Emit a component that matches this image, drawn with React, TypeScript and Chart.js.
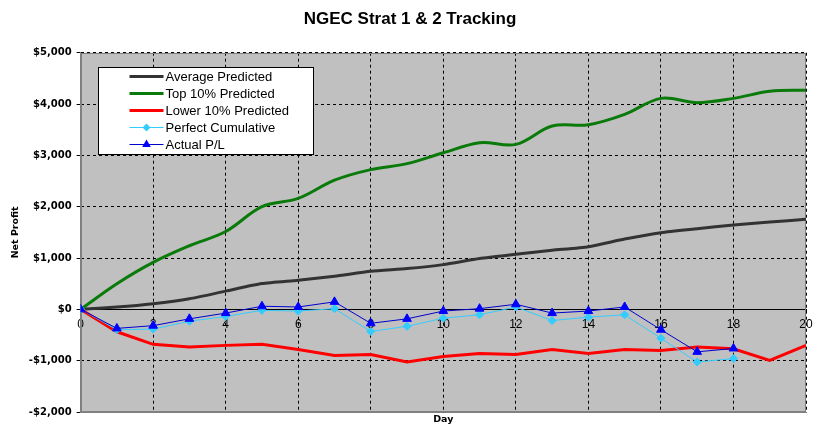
import React, { useEffect, useRef } from "react";
import { Chart, registerables } from "chart.js";

Chart.register(...registerables);

const chartTitle = "NGEC Strat 1 & 2 Tracking";
const yTitle = "Net Profit";
const xTitle = "Day";

const days = [0, 1, 2, 3, 4, 5, 6, 7, 8, 9, 10, 11, 12, 13, 14, 15, 16, 17, 18, 19, 20];
const averagePredicted = [0, 45, 110, 206, 355, 503, 568, 645, 742, 794, 871, 990, 1072, 1150, 1221, 1370, 1494, 1570, 1643, 1700, 1755];
const top10Predicted = [0, 500, 916, 1239, 1516, 2000, 2161, 2516, 2722, 2839, 3050, 3247, 3214, 3571, 3597, 3799, 4110, 4026, 4110, 4247, 4270];
const lower10Predicted = [0, -437, -682, -735, -702, -682, -781, -900, -880, -1026, -920, -861, -880, -781, -861, -781, -801, -735, -768, -993, -702];
const perfectCumulative = [0, -397, -384, -232, -139, -20, -33, 13, -430, -331, -172, -106, 46, -219, -152, -106, -563, -1026, -960];
const actualPL = [0, -371, -318, -185, -73, 60, 46, 146, -272, -185, -33, 13, 99, -73, -33, 46, -397, -828, -762];

const seriesNames = ["Average Predicted", "Top 10% Predicted", "Lower 10% Predicted", "Perfect Cumulative", "Actual P/L"];
const seriesColors = ["#333333", "#0A7A0A", "#FF0000", "#33CCFF", "#0000CC"];
const markerColors = ["", "", "", "#33CCFF", "#0000FF"];

const yMin = -2000;
const yMax = 5000;
const yStep = 1000;
const xMin = 0;
const xMax = 20;
const xStep = 2;

function toPoints(values: number[]) {
  return values.map((v, i) => ({ x: days[i], y: v }));
}

function fmtMoney(v: number) {
  const abs = Math.abs(v).toLocaleString("en-US");
  return (v < 0 ? "-$" : "$") + abs;
}

function drawMarker(ctx: CanvasRenderingContext2D, kind: string, x: number, y: number, r: number, color: string) {
  ctx.save();
  ctx.fillStyle = color;
  ctx.beginPath();
  if (kind === "diamond") {
    ctx.moveTo(x, y - r);
    ctx.lineTo(x + r, y);
    ctx.lineTo(x, y + r);
    ctx.lineTo(x - r, y);
  } else {
    const h = r * 1.5;
    const w = r * 0.866 * 2;
    ctx.moveTo(x, y - r);
    ctx.lineTo(x + w / 2, y - r + h);
    ctx.lineTo(x - w / 2, y - r + h);
  }
  ctx.closePath();
  ctx.fill();
  ctx.restore();
}

const plotFrame = {
  id: "plotFrame",
  beforeDraw(chart: any) {
    const { ctx, chartArea: a } = chart;
    ctx.save();
    ctx.fillStyle = "#C0C0C0";
    ctx.fillRect(a.left, a.top, a.right - a.left, a.bottom - a.top);
    ctx.restore();
  },
  beforeDatasetsDraw(chart: any) {
    const { ctx, chartArea: a } = chart;
    ctx.save();
    ctx.strokeStyle = "#808080";
    ctx.lineWidth = 1;
    ctx.strokeRect(Math.round(a.left) + 0.5, Math.round(a.top) + 0.5, Math.round(a.right - a.left) - 1, Math.round(a.bottom - a.top) - 1);
    ctx.restore();
  },
};

const boxLegend = {
  id: "boxLegend",
  afterDraw(chart: any) {
    const { ctx, chartArea: a } = chart;
    const left = Math.round(a.left + 17) + 0.5;
    const top = Math.round(a.top + 14) + 0.5;
    const w = 215;
    const h = 87;
    ctx.save();
    ctx.fillStyle = "#FFFFFF";
    ctx.fillRect(left, top, w, h);
    ctx.strokeStyle = "#000000";
    ctx.lineWidth = 1;
    ctx.strokeRect(left, top, w, h);
    ctx.font = "13px 'Liberation Sans', Arial, sans-serif";
    ctx.textBaseline = "middle";
    ctx.textAlign = "left";
    seriesNames.forEach((name, i) => {
      const y = top + 9 + i * 17;
      const x0 = left + 31;
      const x1 = left + 65;
      ctx.beginPath();
      ctx.strokeStyle = seriesColors[i];
      ctx.lineWidth = i < 3 ? 3 : 1;
      ctx.moveTo(x0, y);
      ctx.lineTo(x1, y);
      ctx.stroke();
      if (i === 3) drawMarker(ctx, "diamond", (x0 + x1) / 2, y, 4, markerColors[i]);
      if (i === 4) drawMarker(ctx, "triangle", (x0 + x1) / 2, y, 5, markerColors[i]);
      ctx.fillStyle = "#000000";
      ctx.fillText(name, x1 + 2, y + 0.5);
    });
    ctx.restore();
  },
};

export default function App() {
  const canvasRef = useRef<HTMLCanvasElement | null>(null);

  useEffect(() => {
    document.body.style.margin = "0";
    const canvas = canvasRef.current;
    if (!canvas) return;
    const chart = new Chart(canvas, {
      type: "line",
      data: {
        datasets: [
          {
            label: seriesNames[4],
            data: toPoints(actualPL),
            borderColor: seriesColors[4],
            backgroundColor: markerColors[4],
            borderWidth: 1,
            pointStyle: "triangle",
            pointRadius: 5,
            pointBorderWidth: 1,
            pointBorderColor: markerColors[4],
            tension: 0,
            order: 0,
          },
          {
            label: seriesNames[3],
            data: toPoints(perfectCumulative),
            borderColor: seriesColors[3],
            backgroundColor: markerColors[3],
            borderWidth: 1,
            pointStyle: "rectRot",
            pointRadius: 4,
            pointBorderWidth: 1,
            pointBorderColor: markerColors[3],
            tension: 0,
            order: 1,
          },
          {
            label: seriesNames[2],
            data: toPoints(lower10Predicted),
            borderColor: seriesColors[2],
            borderWidth: 3,
            pointRadius: 0,
            tension: 0,
            order: 2,
          },
          {
            label: seriesNames[1],
            data: toPoints(top10Predicted),
            borderColor: seriesColors[1],
            borderWidth: 3,
            pointRadius: 0,
            tension: 0.35,
            order: 3,
          },
          {
            label: seriesNames[0],
            data: toPoints(averagePredicted),
            borderColor: seriesColors[0],
            borderWidth: 3,
            pointRadius: 0,
            tension: 0.2,
            order: 4,
          },
        ],
      },
      options: {
        animation: false,
        responsive: true,
        maintainAspectRatio: false,
        events: [],
        layout: { padding: { left: 0, right: 3, top: 0, bottom: 0 } },
        plugins: {
          legend: { display: false },
          tooltip: { enabled: false },
          title: {
            display: true,
            text: chartTitle,
            color: "#000000",
            font: { family: "'Liberation Sans', Arial, sans-serif", size: 17, weight: "bold" },
            padding: { top: 8.8, bottom: 23.5 },
          },
        },
        scales: {
          x: {
            type: "linear",
            min: xMin,
            max: xMax,
            position: "bottom",
            ticks: { display: false, stepSize: xStep },
            grid: { color: "#000000", drawTicks: false, lineWidth: 1 },
            border: { display: true, color: "#808080", dash: [3, 3] },
            title: {
              display: true,
              text: xTitle,
              color: "#000000",
              font: { family: "'DejaVu Sans', sans-serif", size: 9.5, weight: "bold" },
              padding: { top: 0, bottom: 2.3 },
            },
            afterFit: (scale: any) => {
              scale.height = 16;
            },
          },
          x2: {
            type: "linear",
            axis: "x",
            min: xMin,
            max: xMax,
            position: { y: 0 },
            ticks: {
              stepSize: xStep,
              color: "#000000",
              padding: 5,
              font: { family: "'Liberation Sans', Arial, sans-serif", size: 12 },
            },
            grid: { drawOnChartArea: false, drawTicks: true, tickLength: 3, color: "#000000" },
            border: { display: true, color: "#000000", width: 1 },
          },
          y: {
            type: "linear",
            min: yMin,
            max: yMax,
            position: "left",
            ticks: {
              stepSize: yStep,
              color: "#000000",
              padding: 5,
              font: { family: "'DejaVu Sans', sans-serif", size: 10, weight: "bold" },
              callback: (v: any) => fmtMoney(Number(v)),
            },
            grid: { color: "#000000", drawTicks: true, tickLength: 4, lineWidth: 1 },
            border: { display: true, color: "#808080", dash: [3, 3] },
            title: {
              display: true,
              text: yTitle,
              color: "#000000",
              font: { family: "'DejaVu Sans', sans-serif", size: 9.5, weight: "bold" },
              padding: { top: 10.3, bottom: 0 },
            },
            afterFit: (scale: any) => {
              scale.width = 80.6;
            },
          },
          yRight: {
            type: "linear",
            axis: "y",
            min: yMin,
            max: yMax,
            position: "right",
            ticks: { display: false },
            grid: { display: false, drawTicks: false },
            border: { display: false },
            afterFit: (scale: any) => {
              scale.width = 14;
            },
          },
        },
      },
      plugins: [plotFrame, boxLegend],
    } as any);
    return () => chart.destroy();
  }, []);

  return (
    <div style={{ width: "823px", height: "428px", position: "relative" }}>
      <canvas ref={canvasRef} />
    </div>
  );
}
